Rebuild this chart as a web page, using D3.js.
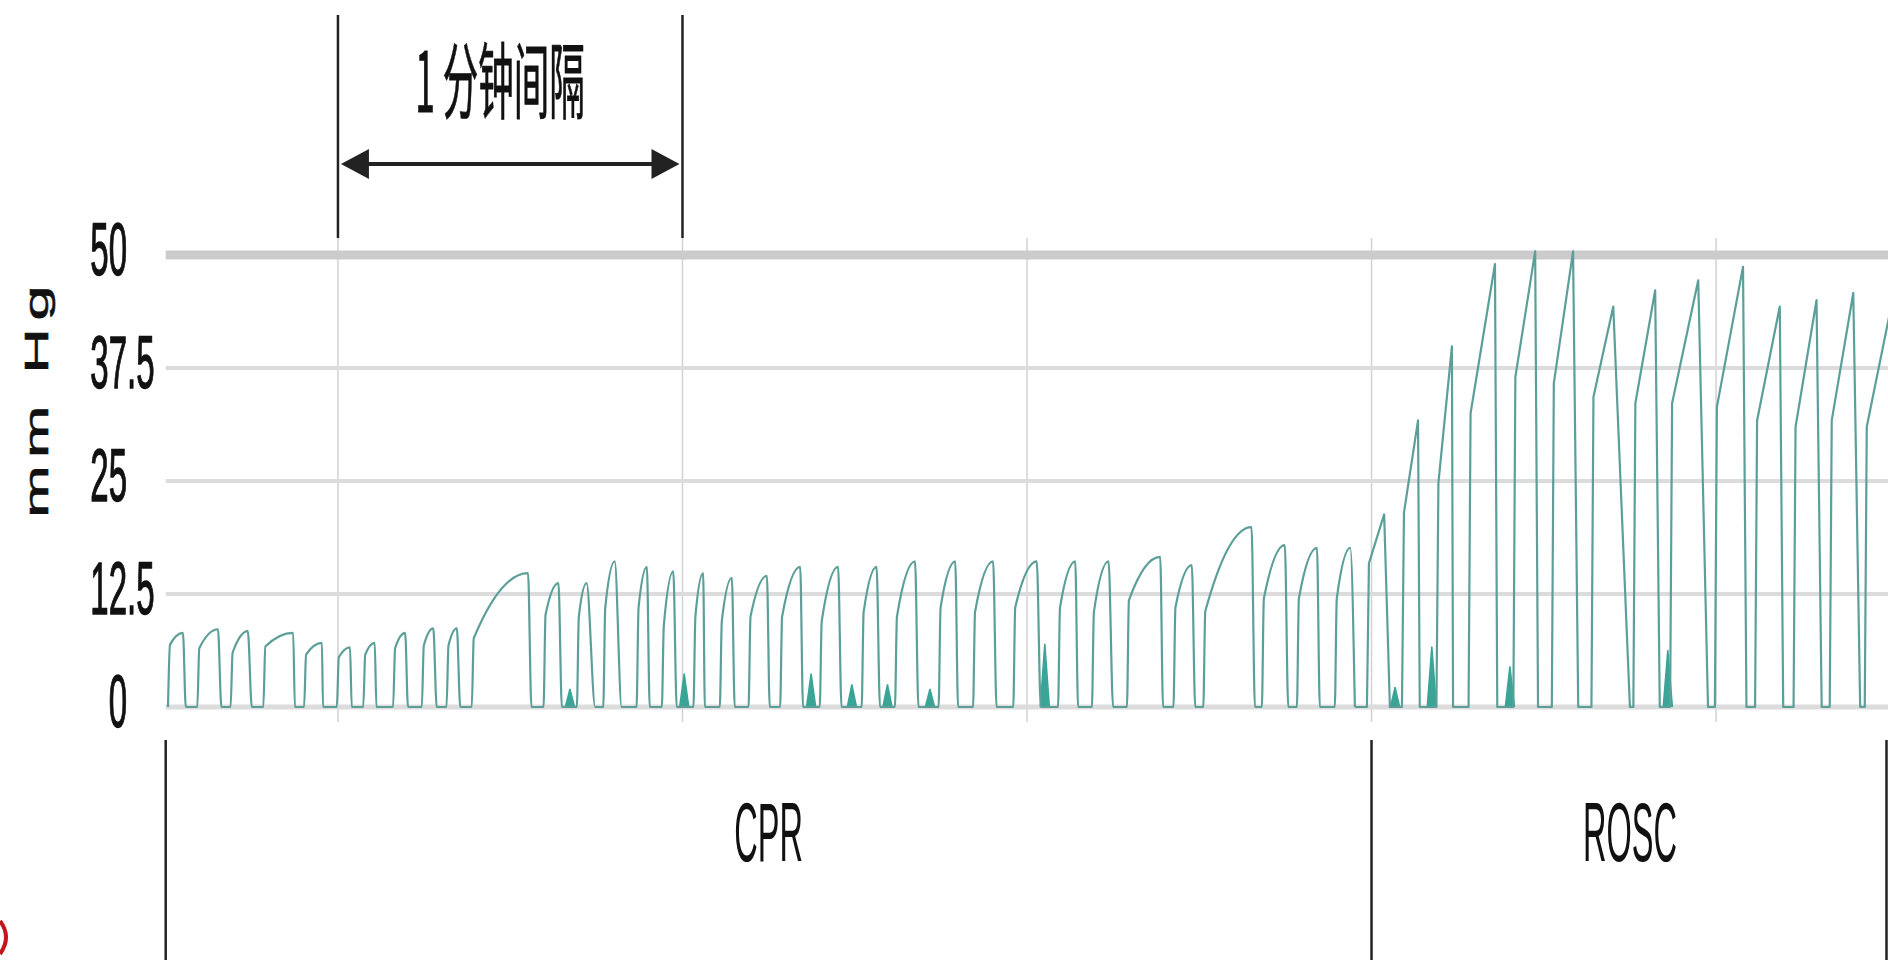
<!DOCTYPE html>
<html lang="zh">
<head>
<meta charset="UTF-8">
<title>ETCO2 CPR / ROSC</title>
<style>
  body { margin: 0; background: #fff; }
  svg { display: block; }
  text { font-family: "Liberation Sans", Arial, sans-serif; fill: #111; }
  .cjk { font-family: "Noto Sans CJK SC", sans-serif; }
  .tick { stroke: #111; stroke-width: 0.6px; }
</style>
<script src="https://d3js.org/d3.v7.min.js"></script>
</head>
<body>
<div id="chart"></div>
<script>
const width = 1888;
const height = 960;

// y axis (mm Hg) and time gridlines (seconds, one per minute)
const tickValues = [0, 12.5, 25, 37.5, 50];
const minuteTicks = [0, 60, 120, 180, 240];

// one entry per breath: rise start, top of the fast rise, peak time/value, back to zero
const cycleStart = [-29.6, -24.5, -18.7, -13.0, -5.9, -0.2, 4.4, 9.6, 14.6, 18.9, 23.3, 35.8,
  41.6, 46.2, 52.0, 56.4, 61.9, 66.5, 71.5, 77.0, 83.9, 91.2, 97.0, 104.6, 110.6, 117.6,
  125.4, 131.3, 137.4, 145.5, 150.7, 160.9, 167.0, 173.6, 179.2, 185.3, 191.3, 196.9,
  204.7, 211.4, 218.3, 225.6, 232.0, 239.8, 246.8, 253.5, 259.8, 265.9];
const cycleShoulder = [6.9, 6.5, 6.0, 6.7, 5.8, 5.5, 5.8, 6.5, 6.8, 6.8, 7.6, 10.2,
  10.0, 11.0, 11.0, 9.0, 10.0, 9.5, 10.0, 10.0, 9.5, 10.5, 10.0, 11.0, 10.5, 11.0,
  11.0, 10.5, 11.8, 11.0, 10.6, 12.0, 12.0, 12.0, 15.9, 21.5, 24.8, 32.5,
  36.5, 35.8, 34.3, 33.6, 33.6, 33.2, 31.7, 31.0, 31.7, 31.0];
const cyclePeakTime = [-27.0, -20.9, -15.7, -7.8, -2.8, 2.1, 6.4, 11.7, 16.6, 20.7, 33.1, 38.4,
  43.3, 48.2, 53.8, 58.4, 63.6, 68.6, 74.7, 80.5, 87.1, 93.8, 100.5, 107.5, 114.1, 121.7,
  128.4, 134.2, 143.2, 148.7, 159.1, 164.9, 170.5, 176.3, 182.2, 188.1, 194.0, 201.5,
  208.5, 215.1, 222.1, 229.4, 236.9, 244.7, 251.1, 257.5, 263.9, 271.2];
const cyclePeak = [8.2, 8.6, 8.4, 8.2, 7.1, 6.6, 7.1, 8.2, 8.7, 8.7, 14.8, 13.7,
  13.7, 16.1, 15.5, 15.0, 14.8, 14.3, 14.5, 15.5, 15.5, 15.5, 16.1, 16.1, 16.1, 16.1,
  16.1, 16.1, 16.6, 15.7, 19.9, 17.9, 17.6, 17.6, 21.3, 31.7, 39.9, 49.0,
  50.4, 50.4, 44.3, 46.1, 47.2, 48.7, 44.3, 45.0, 45.8, 46.5];
const cycleEnd = [-26.5, -20.3, -15.0, -7.5, -2.6, 2.4, 6.7, 12.2, 17.2, 21.3, 33.7, 39.0,
  44.8, 49.4, 54.3, 59.0, 63.9, 69.1, 75.2, 81.0, 87.7, 94.4, 101.1, 108.0, 114.7, 122.4,
  128.9, 135.0, 143.7, 149.3, 159.7, 165.5, 171.0, 177.1, 183.2, 188.4, 194.2, 201.9,
  209.0, 216.0, 225.0, 230.2, 238.6, 245.3, 251.7, 258.4, 265.1, 271.7];

// small artefact blips on the baseline
const spikeTime = [40.4, 60.3, 82.4, 89.5, 95.7, 103.1, 123.1, 184.1, 190.5, 204.1, 231.6];
const spikeValue = [2.0, 3.7, 3.7, 2.5, 2.5, 2.0, 7.0, 2.2, 6.7, 4.5, 6.3];

// phases along the bottom
const phaseLabels = ["CPR", "ROSC"];
const phaseBounds = [-30, 180, 270];

const svg = d3.select("#chart").append("svg")
  .attr("width", width)
  .attr("height", height);

const x = d3.scaleLinear().domain([-30, 270]).range([165.7, 1888.3]);
const y = d3.scaleLinear().domain([0, 50]).range([707, 255]);

// text drawn tall and narrow like the scanned figure
function tallText(g, str, tx, ty, size, sy, anchor, cls) {
  return g.append("text")
    .attr("class", cls || null)
    .attr("transform", `translate(${tx},${ty}) scale(1,${sy})`)
    .attr("text-anchor", anchor)
    .attr("dominant-baseline", "central")
    .style("font-size", size + "px")
    .text(str);
}

// grid
const grid = svg.append("g");
grid.selectAll("line.v")
  .data(minuteTicks)
  .join("line")
  .attr("class", "v")
  .attr("x1", d => x(d)).attr("x2", d => x(d))
  .attr("y1", 238).attr("y2", 722)
  .attr("stroke", "#d2d2d2")
  .attr("stroke-width", 1.5);

grid.selectAll("line.h")
  .data(tickValues)
  .join("line")
  .attr("class", "h")
  .attr("x1", x.range()[0]).attr("x2", x.range()[1])
  .attr("y1", d => y(d)).attr("y2", d => y(d))
  .attr("stroke", d => d === 50 ? "#cbcbcb" : "#dcdcdc")
  .attr("stroke-width", d => d === 50 ? 9 : (d === 0 ? 5 : 4));

// y tick labels, aligned on the decimal point
const yLab = svg.append("g");
tickValues.forEach(v => {
  const [whole, frac] = String(v).split(".");
  tallText(yLab, whole, 127, y(v) - 6, 33, 2.25, "end", "tick");
  if (frac) tallText(yLab, "." + frac, 127, y(v) - 6, 33, 2.25, "start", "tick");
});

svg.append("text")
  .attr("class", "tick")
  .attr("transform", "translate(36,398) scale(1,1.85) rotate(-90)")
  .attr("text-anchor", "middle")
  .attr("dominant-baseline", "central")
  .style("font-size", "34px")
  .style("letter-spacing", "4px")
  .text("mm Hg");

// waveform: CPR breaths drawn smooth, ROSC breaths as straight ramps
svg.append("defs").append("clipPath").attr("id", "plot")
  .append("rect")
  .attr("x", x.range()[0]).attr("y", 0)
  .attr("width", x.range()[1] - x.range()[0]).attr("height", height);

const cprPoints = [];
const roscPoints = [];
cycleStart.forEach((s, i) => {
  const target = s < phaseBounds[1] - 1 ? cprPoints : roscPoints;
  if (target === roscPoints && roscPoints.length === 0) roscPoints.push([cycleEnd[i - 1], 0]);
  target.push([s, 0]);
  target.push([s + 0.35, cycleShoulder[i]]);
  target.push([cyclePeakTime[i], cyclePeak[i]]);
  target.push([cycleEnd[i], 0]);
});

const smoothLine = d3.line()
  .x(d => x(d[0]))
  .y(d => y(d[1]))
  .curve(d3.curveMonotoneX);
const rampLine = d3.line()
  .x(d => x(d[0]))
  .y(d => y(d[1]));

const trace = svg.append("g").attr("clip-path", "url(#plot)");

trace.selectAll("path.blip")
  .data(spikeTime.map((t, i) => [[t - 0.8, 0], [t, spikeValue[i]], [t + 0.8, 0]]))
  .join("path")
  .attr("class", "blip")
  .attr("d", rampLine)
  .attr("fill", "#3aa597")
  .attr("stroke", "#3aa597")
  .attr("stroke-width", 1.5);

trace.append("path")
  .datum(cprPoints)
  .attr("d", smoothLine)
  .attr("fill", "none")
  .attr("stroke", "#5c9f99")
  .attr("stroke-width", 2.2)
  .attr("stroke-linejoin", "round");

trace.append("path")
  .datum(roscPoints)
  .attr("d", rampLine)
  .attr("fill", "none")
  .attr("stroke", "#5c9f99")
  .attr("stroke-width", 2.2)
  .attr("stroke-linejoin", "round");

// one-minute bracket
const brk = svg.append("g");
const arrowY = 164;
brk.selectAll("line")
  .data([0, 60])
  .join("line")
  .attr("x1", d => x(d)).attr("x2", d => x(d))
  .attr("y1", 15).attr("y2", 238)
  .attr("stroke", "#222")
  .attr("stroke-width", 2.5);
brk.append("line")
  .attr("x1", x(0) + 20).attr("x2", x(60) - 20)
  .attr("y1", arrowY).attr("y2", arrowY)
  .attr("stroke", "#222")
  .attr("stroke-width", 4);
brk.append("path")
  .attr("d", `M${x(0) + 3},${arrowY} L${x(0) + 31},${arrowY - 15} L${x(0) + 31},${arrowY + 15} Z`)
  .attr("fill", "#222");
brk.append("path")
  .attr("d", `M${x(60) - 3},${arrowY} L${x(60) - 31},${arrowY - 15} L${x(60) - 31},${arrowY + 15} Z`)
  .attr("fill", "#222");
tallText(brk, "1 分钟间隔", 500, 76, 35.5, 2.35, "middle", "cjk tick")
  .style("stroke-width", "0.4px");

// phase bar at the bottom
const phase = svg.append("g");
phase.selectAll("line")
  .data(phaseBounds)
  .join("line")
  .attr("x1", d => Math.min(x(d), width - 1.5)).attr("x2", d => Math.min(x(d), width - 1.5))
  .attr("y1", 740).attr("y2", height)
  .attr("stroke", "#222")
  .attr("stroke-width", 2.5);
phaseLabels.forEach((lab, i) => {
  tallText(phase, lab, x((phaseBounds[i] + phaseBounds[i + 1]) / 2), 832, 32.5, 2.55, "middle");
});

// cut-off red mark at the lower left edge of the scan
svg.append("path")
  .attr("d", "M0,921 Q12,937 0,954")
  .attr("fill", "none")
  .attr("stroke", "#c4161c")
  .attr("stroke-width", 4);
</script>
</body>
</html>
